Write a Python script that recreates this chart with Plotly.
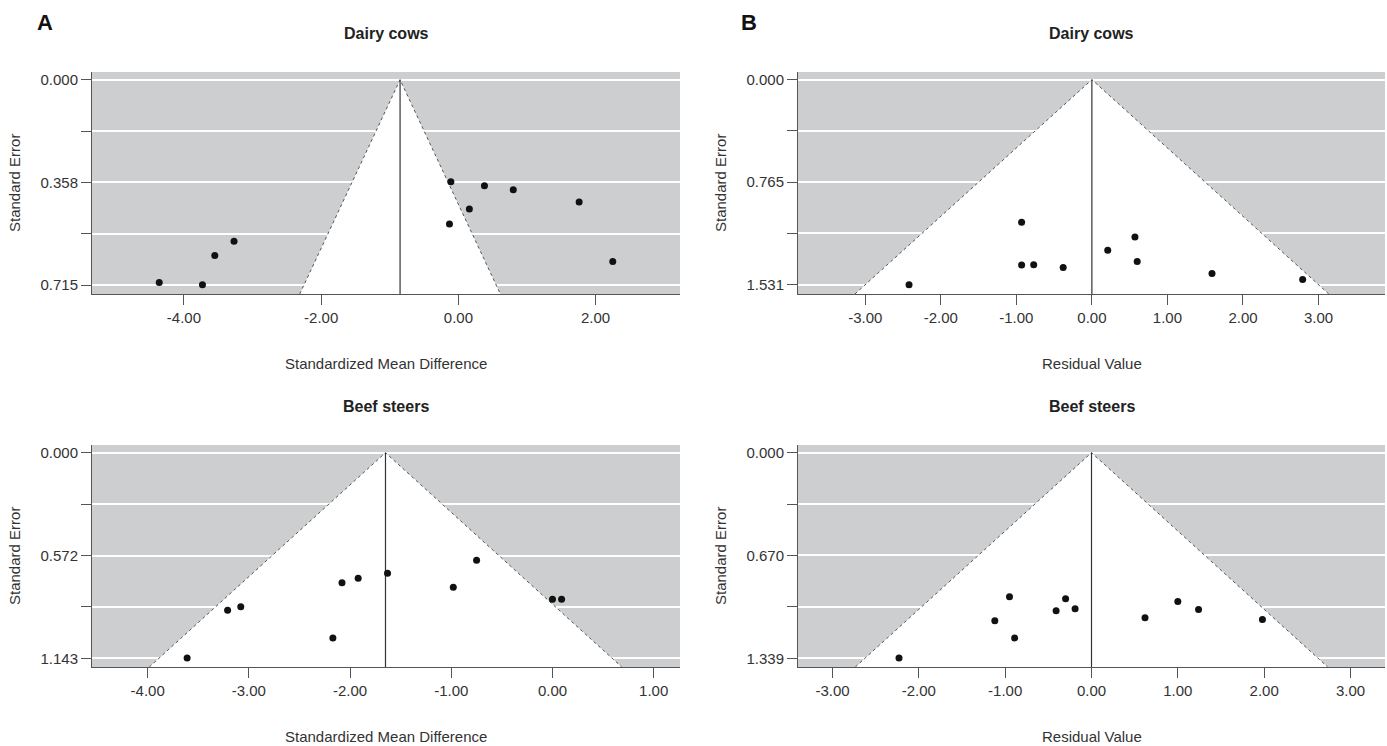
import plotly.graph_objects as go

# ---------------- data ----------------
# Panel A: Dairy cows (Standardized Mean Difference vs Standard Error)
a_dairy_smd = [-4.36, -3.73, -3.55, -3.27, -0.11, -0.13, 0.16, 0.38, 0.80, 1.76, 2.25]
a_dairy_se = [0.706, 0.714, 0.612, 0.562, 0.355, 0.502, 0.450, 0.369, 0.383, 0.426, 0.633]
a_dairy_mean = -0.85
a_dairy_ymax = 0.715

# Panel A: Beef steers
a_beef_smd = [-3.61, -3.21, -3.08, -2.17, -2.08, -1.92, -1.63, -0.98, -0.75, 0.00, 0.09]
a_beef_se = [1.141, 0.875, 0.856, 1.030, 0.723, 0.698, 0.670, 0.748, 0.597, 0.815, 0.815]
a_beef_mean = -1.65
a_beef_ymax = 1.143

# Panel B: Dairy cows (Residual Value vs Standard Error)
b_dairy_res = [-2.42, -0.93, -0.93, -0.77, -0.38, 0.21, 0.57, 0.60, 1.59, 2.79]
b_dairy_se = [1.531, 1.064, 1.384, 1.382, 1.402, 1.273, 1.174, 1.357, 1.447, 1.491]
b_dairy_mean = 0.0
b_dairy_ymax = 1.531

# Panel B: Beef steers
b_beef_res = [-2.23, -1.12, -0.95, -0.89, -0.41, -0.30, -0.19, 0.62, 1.00, 1.24, 1.98]
b_beef_se = [1.337, 1.094, 0.938, 1.207, 1.029, 0.951, 1.016, 1.075, 0.970, 1.022, 1.087]
b_beef_mean = 0.0
b_beef_ymax = 1.339

a_xticks_top = [-4, -2, 0, 2]
a_xticks_bot = [-4, -3, -2, -1, 0, 1]
b_xticks = [-3, -2, -1, 0, 1, 2, 3]

y_mid_labels = {0.715: "0.358", 1.143: "0.572", 1.531: "0.765", 1.339: "0.670"}

# ---------------- layout helpers ----------------
W, H = 1387, 746
GRAY = "#cdcecf"
FONT = "Liberation Sans, Arial, sans-serif"

panels = [
    dict(x=a_dairy_smd, y=a_dairy_se, mean=a_dairy_mean, ymax=a_dairy_ymax,
         xr=[-5.34, 3.23], yr=[0.746, -0.027], xt=a_xticks_top,
         xd=(92, 680), yd=(72, 294), title="Dairy cows", xtitle="Standardized Mean Difference"),
    dict(x=b_dairy_res, y=b_dairy_se, mean=b_dairy_mean, ymax=b_dairy_ymax,
         xr=[-3.89, 3.88], yr=[1.600, -0.057], xt=b_xticks,
         xd=(798, 1385), yd=(72, 294), title="Dairy cows", xtitle="Residual Value"),
    dict(x=a_beef_smd, y=a_beef_se, mean=a_beef_mean, ymax=a_beef_ymax,
         xr=[-4.55, 1.26], yr=[1.191, -0.043], xt=a_xticks_bot,
         xd=(92, 680), yd=(445, 667), title="Beef steers", xtitle="Standardized Mean Difference"),
    dict(x=b_beef_res, y=b_beef_se, mean=b_beef_mean, ymax=b_beef_ymax,
         xr=[-3.40, 3.40], yr=[1.396, -0.050], xt=b_xticks,
         xd=(798, 1385), yd=(445, 667), title="Beef steers", xtitle="Residual Value"),
]

fig = go.Figure()
annotations = []

for i, p in enumerate(panels, start=1):
    xa = "x" if i == 1 else f"x{i}"
    ya = "y" if i == 1 else f"y{i}"
    ybot = p["yr"][0]
    m = p["mean"]
    hw = 1.96 * ybot
    # white funnel region
    fig.add_trace(go.Scatter(
        x=[m - hw, m, m + hw, m - hw], y=[ybot, 0, ybot, ybot],
        mode="lines", fill="toself", fillcolor="white",
        line=dict(width=0, color="white"), hoverinfo="skip",
        xaxis=xa, yaxis=ya, showlegend=False))
    # dotted funnel edges
    fig.add_trace(go.Scatter(
        x=[m - hw, m, m + hw], y=[ybot, 0, ybot],
        mode="lines", line=dict(color="#555555", width=1, dash="dot"),
        hoverinfo="skip", xaxis=xa, yaxis=ya, showlegend=False))
    # mean line
    fig.add_trace(go.Scatter(
        x=[m, m], y=[0, ybot], mode="lines",
        line=dict(color="#333333", width=1.2),
        hoverinfo="skip", xaxis=xa, yaxis=ya, showlegend=False))
    # points
    fig.add_trace(go.Scatter(
        x=p["x"], y=p["y"], mode="markers",
        marker=dict(color="#111111", size=7),
        xaxis=xa, yaxis=ya, showlegend=False))

    ymax = p["ymax"]
    yt = [0, ymax / 4, ymax / 2, 3 * ymax / 4, ymax]
    ytt = ["0.000", "", y_mid_labels[ymax], "", f"{ymax:.3f}"]

    xdom = [p["xd"][0] / W, p["xd"][1] / W]
    ydom = [1 - p["yd"][1] / H, 1 - p["yd"][0] / H]
    xkey = "xaxis" if i == 1 else f"xaxis{i}"
    ykey = "yaxis" if i == 1 else f"yaxis{i}"
    fig.update_layout(**{
        xkey: dict(domain=xdom, range=p["xr"], anchor=ya,
                   tickvals=p["xt"], ticktext=[f"{v:.2f}" for v in p["xt"]],
                   showgrid=False, zeroline=False, showline=True,
                   linecolor="#555555", linewidth=1, ticks="outside",
                   ticklen=10, tickcolor="#555555",
                   tickfont=dict(size=15, color="#333333", family=FONT)),
        ykey: dict(domain=ydom, range=p["yr"], anchor=xa,
                   tickvals=yt, ticktext=ytt,
                   showgrid=True, gridcolor="white", gridwidth=1.5,
                   zeroline=False, showline=True,
                   linecolor="#555555", linewidth=1, ticks="outside",
                   ticklen=10, tickcolor="#555555",
                   tickfont=dict(size=15, color="#333333", family=FONT)),
    })

    cx = (p["xd"][0] + p["xd"][1]) / 2 / W
    annotations.append(dict(text=f"<b>{p['title']}</b>", x=cx, y=1 - (p["yd"][0] - 39) / H,
                            xref="paper", yref="paper", showarrow=False,
                            xanchor="center", yanchor="middle",
                            font=dict(size=16, color="#222222", family=FONT)))
    annotations.append(dict(text=p["xtitle"], x=cx, y=1 - (p["yd"][1] + 69) / H,
                            xref="paper", yref="paper", showarrow=False,
                            xanchor="center", yanchor="middle",
                            font=dict(size=15, color="#333333", family=FONT)))
    annotations.append(dict(text="Standard Error", x=(p["xd"][0] - 78) / W,
                            y=1 - (p["yd"][0] + p["yd"][1]) / 2 / H,
                            xref="paper", yref="paper", showarrow=False,
                            textangle=-90, xanchor="center", yanchor="middle",
                            font=dict(size=15, color="#333333", family=FONT)))

annotations.append(dict(text="<b>A</b>", x=45 / W, y=1 - 22 / H, xref="paper", yref="paper",
                        showarrow=False, xanchor="center", yanchor="middle",
                        font=dict(size=22, color="#111111", family=FONT)))
annotations.append(dict(text="<b>B</b>", x=749 / W, y=1 - 22 / H, xref="paper", yref="paper",
                        showarrow=False, xanchor="center", yanchor="middle",
                        font=dict(size=22, color="#111111", family=FONT)))

fig.update_layout(width=W, height=H, margin=dict(l=0, r=0, t=0, b=0),
                  paper_bgcolor="white", plot_bgcolor=GRAY,
                  annotations=annotations, showlegend=False,
                  font=dict(family=FONT))

fig.write_html("out.html", config={"displayModeBar": False},
               post_script="document.body.style.margin='0';document.body.style.overflow='hidden';")
